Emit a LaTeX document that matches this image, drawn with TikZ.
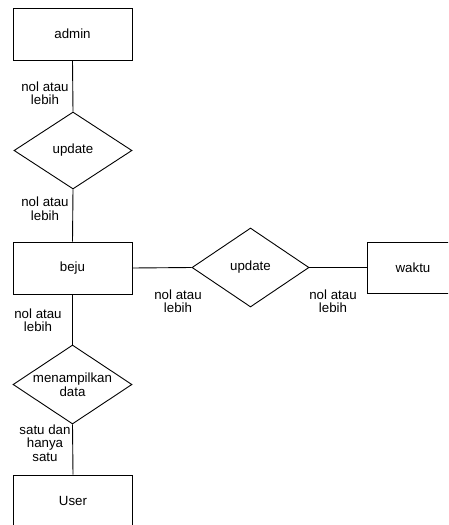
\documentclass[tikz,border=0pt]{standalone}
\usepackage{fontspec}
\setmainfont{Liberation Sans}
\usetikzlibrary{shapes.geometric}
\begin{document}
\begin{tikzpicture}[x=1pt,y=-1pt,
  ent/.style={draw, rectangle, minimum width=119pt, minimum height=52pt, inner sep=0pt},
  rel/.style={draw, diamond, inner sep=0pt},
  lbl/.style={align=center, inner sep=0pt, font=\fontsize{13.3}{13.5}\selectfont},
  txt/.style={align=center, inner sep=0pt, font=\fontsize{13.3}{13.5}\selectfont},
  line width=0.9pt]
\useasboundingbox (0,0) rectangle (448,525);
\clip (0,0) rectangle (448,525);
\fill[white] (0,0) rectangle (448,525);
% entities
\node[ent] (admin) at (72.5,34) {};
\node[txt] at (admin) {admin};
\node[ent] (beju) at (72.5,268) {};
\node[txt] at (beju) {beju};
\node[ent, minimum width=119pt] (user) at (73,501) {};
\node[txt] at (73,501) {User};
\node[ent, minimum width=119pt, minimum height=51pt] (waktu) at (426.5,267.5) {};
\node[txt] at (413,267.5) {waktu};
% relations
\node[rel, minimum width=118pt, minimum height=77pt] (d1) at (73,150.5) {};
\node[txt] at (d1) {update};
\node[rel, minimum width=117pt, minimum height=79pt] (d3) at (250.5,267.5) {};
\node[txt] at (d3) {update};
\node[rel, minimum width=119pt, minimum height=79pt] (d2) at (72.5,384.5) {};
\node[txt] at (d2) {menampilkan\\data};
% connectors
\draw (admin.south) -- (d1.north);
\draw (d1.south) -- (beju.north);
\draw (beju.east) -- (d3.west);
\draw (d3.east) -- (waktu.west);
\draw (beju.south) -- (d2.north);
\draw (d2.south) -- (user.north);
% cardinality labels
\node[lbl] (c1) at (45,93) {nol atau\\lebih};
\node[lbl] (c2) at (45,208.5) {nol atau\\lebih};
\node[lbl] (c3) at (38,320) {nol atau\\lebih};
\node[lbl] (c4) at (178,301) {nol atau\\lebih};
\node[lbl] (c5) at (333,301) {nol atau\\lebih};
\node[lbl] (c6) at (45,443) {satu dan\\hanya\\satu};
\end{tikzpicture}
\end{document}
